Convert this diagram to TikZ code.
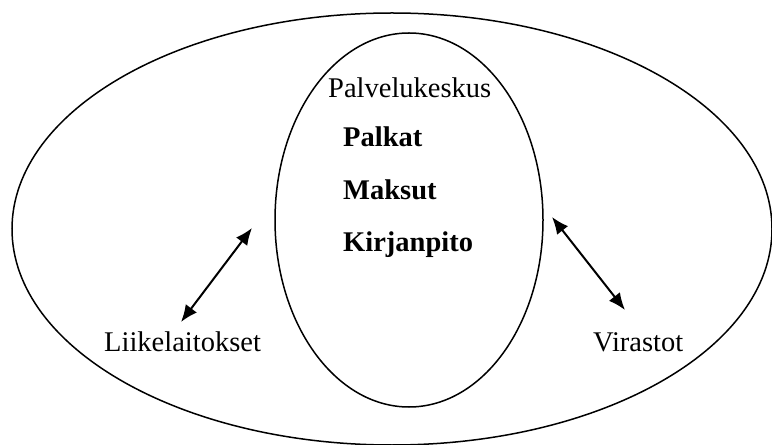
\documentclass[tikz,border=0pt]{standalone}
\usepackage{fontspec}
\setmainfont{Liberation Serif}
\usetikzlibrary{arrows.meta}
\begin{document}
\begin{tikzpicture}[x=1bp,y=-1bp,
  txt/.style={inner sep=0pt,anchor=base west,font=\fontsize{28.5bp}{34bp}\selectfont},
  btxt/.style={txt,font=\fontsize{28.5bp}{34bp}\selectfont\bfseries},
  ring/.style={draw,line width=1.5bp},
  dbl/.style={line width=2bp,{Latex[length=17bp,width=14bp]}-{Latex[length=17bp,width=14bp]}}]
\useasboundingbox (0,0) rectangle (772,445);
\draw[ring] (392,229) ellipse [x radius=380, y radius=216];
\draw[ring] (409,220) ellipse [x radius=134, y radius=187];
\node[txt] (pk) at (328,98) {Palvelukeskus};
\node[btxt] (pa) at (343,147) {Palkat};
\node[btxt] (ma) at (343,200) {Maksut};
\node[btxt] (ki) at (343,252) {Kirjanpito};
\node[txt] (li) at (104,352) {Liikelaitokset};
\node[txt] (vi) at (593,352) {Virastot};
\coordinate (l1) at (252,228);
\coordinate (l2) at (181,322);
\coordinate (r1) at (552,217);
\coordinate (r2) at (625,310);
\draw[dbl] (l1) -- (l2);
\draw[dbl] (r1) -- (r2);
\end{tikzpicture}
\end{document}
